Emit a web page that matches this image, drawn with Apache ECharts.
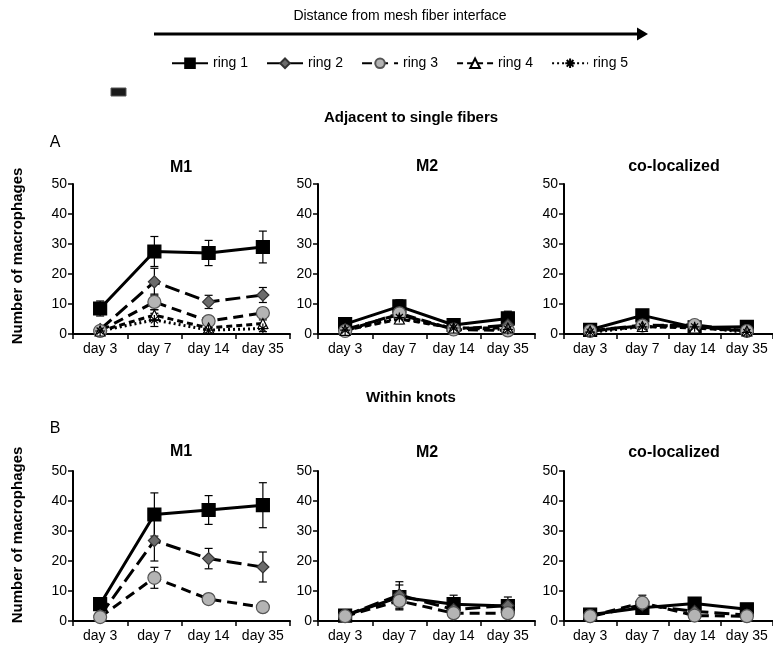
<!DOCTYPE html>
<html>
<head>
<meta charset="utf-8">
<script src="https://cdn.jsdelivr.net/npm/echarts@6/dist/echarts.min.js"></script>
<style>
  html, body { margin: 0; padding: 0; background: #fff; }
  #chart { width: 773px; height: 650px; }
</style>
</head>
<body>
<div id="chart"></div>
<script>
var days = ['day 3', 'day 7', 'day 14', 'day 35'];
var ringNames = ['ring 1', 'ring 2', 'ring 3', 'ring 4', 'ring 5'];

// Adjacent to single fibers (A)
var adjM1 = [[8.5, 27.5, 27, 29], [1.5, 17.4, 10.7, 13], [1, 10.7, 4.3, 7], [1, 6.3, 2, 3.5], [1, 4.7, 1.3, 1.8]];
var adjM1Err = [[2.5, 5, 4.2, 5.3], [0.6, 4.5, 2.2, 2.5], [0.5, 2.6, 1.2, 1.8], [0.5, 1.8, 1, 1.2], [0.5, 2.2, 0.8, 1]];
var adjM2 = [[3.3, 9.2, 3, 5.2], [1.5, 6.5, 1.5, 3], [1, 6.9, 1.5, 1.2], [1.2, 5, 2, 2], [1.3, 5.5, 2, 1.5]];
var adjM2Err = [[0.8, 2.2, 0.8, 2.4], [0.5, 1.5, 0.5, 1], [0.5, 1.8, 0.5, 0.6], [0.5, 1.6, 0.6, 0.6], [0.5, 1.5, 0.6, 0.6]];
var adjCo = [[1.4, 6.2, 2.2, 2.4], [1, 3, 2.5, 1], [1, 2.8, 3, 1], [1, 2.5, 2, 1], [0.6, 2.4, 2.4, 0.5]];
var adjCoErr = [[0.4, 1, 0.5, 0.6], [0.3, 0.8, 0.6, 0.3], [0.3, 0.8, 0.8, 0.3], [0.3, 0.7, 0.6, 0.3], [0.3, 0.7, 0.6, 0.3]];

// Within knots (B)
var knotM1 = [[5.6, 35.5, 37, 38.6], [1.8, 26.8, 20.8, 18], [1.3, 14.4, 7.3, 4.6]];
var knotM1Err = [[1, 7.2, 4.8, 7.5], [0.5, 6.8, 3.4, 5], [0.4, 3.5, 1.6, 1.2]];
var knotM2 = [[1.8, 8, 5.6, 5], [1.8, 8.7, 3.8, 5.2], [1.6, 6.7, 2.6, 2.6]];
var knotM2Err = [[0.4, 4, 3, 3], [0.4, 4.4, 1.2, 1.5], [0.4, 3, 0.8, 0.8]];
var knotCo = [[2.1, 4.4, 5.8, 3.9], [1.5, 5.4, 3.2, 2], [1.6, 6.1, 1.8, 1.6]];
var knotCoErr = [[0.4, 1, 2, 0.8], [0.4, 1.5, 0.8, 0.5], [0.4, 2.5, 0.5, 0.4]];

var panels = [
    {mean: adjM1, err: adjM1Err}, {mean: adjM2, err: adjM2Err}, {mean: adjCo, err: adjCoErr},
    {mean: knotM1, err: knotM1Err}, {mean: knotM2, err: knotM2Err}, {mean: knotCo, err: knotCoErr}
];

var FONT = '"Liberation Sans", Arial, sans-serif';
var star = 'path://M0,5L10,5M5,0L5,10M1.5,1.5L8.5,8.5M8.5,1.5L1.5,8.5';

var ringStyles = [
    {symbol: 'rect', size: 13, fill: '#000', border: '#000', line: 'solid', width: 3},
    {symbol: 'diamond', size: 12, fill: '#6b6b6b', border: '#333', line: [15, 6], width: 3},
    {symbol: 'circle', size: 13, fill: '#b4b4b4', border: '#555', line: [10, 6], width: 3},
    {symbol: 'triangle', size: 10, fill: '#fff', border: '#000', line: [6, 4], width: 3},
    {symbol: star, size: 10, fill: 'none', border: '#000', line: [2, 3], width: 3}
];

var gridLefts = [73, 318, 564];
var gridTops = [184, 471];
var grids = [], xAxes = [], yAxes = [], series = [];

for (var p = 0; p < panels.length; p++) {
    grids.push({left: gridLefts[p % 3], top: gridTops[Math.floor(p / 3)], width: 217, height: 150});
    xAxes.push({type: 'category', gridIndex: p, data: days, boundaryGap: true,
        axisLine: {lineStyle: {color: '#000', width: 2}},
        axisTick: {show: true, length: 5, lineStyle: {color: '#000', width: 1.5}},
        axisLabel: {color: '#000', fontSize: 14, fontFamily: FONT, margin: 8, interval: 0}});
    yAxes.push({type: 'value', gridIndex: p, min: 0, max: 50, interval: 10,
        axisLine: {show: true, lineStyle: {color: '#000', width: 2}},
        axisTick: {show: true, length: 5, lineStyle: {color: '#000', width: 1.5}},
        axisLabel: {color: '#000', fontSize: 14, fontFamily: FONT, margin: 6},
        splitLine: {show: false}});

    var mean = panels[p].mean, err = panels[p].err;
    for (var r = 0; r < mean.length; r++) {
        var st = ringStyles[r];
        var errData = [];
        for (var i = 0; i < days.length; i++) {
            errData.push([i, mean[r][i] - err[r][i], mean[r][i] + err[r][i]]);
        }
        series.push({type: 'custom', name: 'err', xAxisIndex: p, yAxisIndex: p, z: 2, silent: true,
            data: errData, encode: {x: 0, y: [1, 2]},
            renderItem: function (params, api) {
                var lo = api.coord([api.value(0), api.value(1)]);
                var hi = api.coord([api.value(0), api.value(2)]);
                var w = 4;
                var s = {stroke: '#000', lineWidth: 1.2};
                return {type: 'group', children: [
                    {type: 'line', shape: {x1: lo[0], y1: lo[1], x2: hi[0], y2: hi[1]}, style: s},
                    {type: 'line', shape: {x1: lo[0] - w, y1: lo[1], x2: lo[0] + w, y2: lo[1]}, style: s},
                    {type: 'line', shape: {x1: hi[0] - w, y1: hi[1], x2: hi[0] + w, y2: hi[1]}, style: s}
                ]};
            }});
        series.push({type: 'line', name: ringNames[r], xAxisIndex: p, yAxisIndex: p, z: 3,
            data: mean[r], symbol: st.symbol, symbolSize: st.size, showAllSymbol: true,
            lineStyle: {color: '#000', width: st.width, type: st.line},
            itemStyle: {color: st.fill, borderColor: st.border, borderWidth: 1.2, opacity: 1},
            emphasis: {disabled: true}, animation: false});
    }
}

function txt(x, y, text, size, bold, extra) {
    var o = {type: 'text', x: x, y: y, style: {text: text, font: (bold ? 'bold ' : '') + size + 'px ' + FONT,
        fill: '#000', textAlign: 'center', textVerticalAlign: 'middle'}};
    if (extra) { for (var k in extra) o[k] = extra[k]; }
    return o;
}

var graphics = [
    txt(400, 16, 'Distance from mesh fiber interface', 14, false),
    {type: 'line', shape: {x1: 154, y1: 34, x2: 640, y2: 34}, style: {stroke: '#000', lineWidth: 3}},
    {type: 'polygon', shape: {points: [[637, 27.5], [648, 34], [637, 40.5]]}, style: {fill: '#000'}},
    {type: 'rect', shape: {x: 111, y: 88, width: 15, height: 8}, style: {fill: '#1a1a1a', stroke: '#555', lineWidth: 1}},
    txt(411, 118, 'Adjacent to single fibers', 15, true),
    txt(411, 398, 'Within knots', 15, true),
    txt(55, 143, 'A', 16, false),
    txt(55, 429, 'B', 16, false),
    txt(181, 168, 'M1', 16, true), txt(427, 167, 'M2', 16, true), txt(674, 167, 'co-localized', 16, true),
    txt(181, 452, 'M1', 16, true), txt(427, 453, 'M2', 16, true), txt(674, 453, 'co-localized', 16, true),
    txt(0, 0, 'Number of macrophages', 15, true, {x: 18, y: 256, rotation: Math.PI / 2}),
    txt(0, 0, 'Number of macrophages', 15, true, {x: 18, y: 535, rotation: Math.PI / 2})
];

var myChart = echarts.init(document.getElementById('chart'), null, {renderer: 'canvas'});
var option = {
    backgroundColor: '#fff',
    animation: false,
    legend: {data: ringNames, top: 51, left: 166, itemWidth: 36, itemHeight: 12, itemGap: 18,
        textStyle: {color: '#000', fontSize: 14, fontFamily: FONT}, selectedMode: false},
    grid: grids, xAxis: xAxes, yAxis: yAxes, series: series, graphic: graphics
};
myChart.setOption(option);
</script>
</body>
</html>
